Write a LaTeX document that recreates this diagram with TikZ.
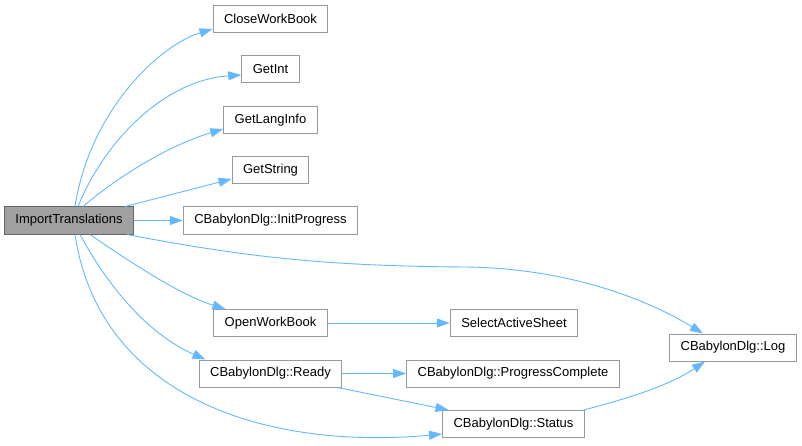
\documentclass[tikz,border=0pt]{standalone}
\usepackage{fontspec}
\setmainfont{Liberation Sans}
\usetikzlibrary{arrows.meta}
\definecolor{callblue}{HTML}{63B8FF}
\definecolor{boxgray}{HTML}{999999}
\definecolor{rootfill}{HTML}{A0A0A0}
\definecolor{rootline}{HTML}{666666}
\tikzset{
  fn/.style={draw=boxgray,fill=white,line width=1pt,minimum height=27pt,inner xsep=11pt,inner ysep=0pt,font=\fontsize{13}{15}\selectfont},
  root/.style={fn,draw=rootline,fill=rootfill},
  call/.style={draw=callblue,line width=0.9pt,-{Triangle[length=13pt,width=9pt]}}
}
\begin{document}
\begin{tikzpicture}[x=1pt,y=-1pt]
  \useasboundingbox (0,0) rectangle (802,446);
  \node[root] (imp) at (69,220.5) {ImportTranslations};
  \node[fn] (close) at (270.5,19) {CloseWorkBook};
  \node[fn] (getint) at (270.5,69.5) {GetInt};
  \node[fn] (langinfo) at (270.5,120) {GetLangInfo};
  \node[fn] (getstring) at (270.5,170) {GetString};
  \node[fn] (initprog) at (270.5,220.5) {CBabylonDlg::InitProgress};
  \node[fn] (openwb) at (270.5,323) {OpenWorkBook};
  \node[fn] (ready) at (270.5,373.5) {CBabylonDlg::Ready};
  \node[fn] (select) at (514,323) {SelectActiveSheet};
  \node[fn] (progress) at (513,373.5) {CBabylonDlg::ProgressComplete};
  \node[fn] (status) at (513.5,424) {CBabylonDlg::Status};
  \node[fn] (log) at (733,347.5) {CBabylonDlg::Log};

  \draw[call] ([xshift=6pt]imp.north) .. controls (90,110) and (160,45) .. ([yshift=-10pt]close.west);
  \draw[call] ([xshift=9pt]imp.north) .. controls (105,140) and (165,80) .. ([yshift=-5.5pt]getint.west);
  \draw[call] ([xshift=14pt]imp.north) .. controls (120,175) and (170,145) .. ([yshift=-9pt]langinfo.west);
  \draw[call] ([xshift=56pt]imp.north) -- ([yshift=-9pt]getstring.west);
  \draw[call] (imp) -- (initprog);
  \draw[call] ([xshift=58pt]imp.south) .. controls (250,258) and (330,266) .. (465,267)
    .. controls (560,268) and (640,295) .. ([xshift=-30pt]log.north);
  \draw[call] ([xshift=21pt]imp.south) .. controls (130,262) and (180,295) .. ([xshift=-45pt]openwb.north);
  \draw[call] ([xshift=11pt]imp.south) .. controls (110,290) and (150,335) .. ([xshift=-65pt]ready.north);
  \draw[call] ([xshift=6pt]imp.south) .. controls (100,400) and (270,450) .. ([yshift=-10pt]status.west);

  \draw[call] (openwb) -- (select);
  \draw[call] (ready) -- (progress);
  \draw[call] ([xshift=67pt]ready.south) -- ([xshift=-65pt]status.north);
  \draw[call] ([xshift=70pt]status.north) .. controls (630,398) and (670,385) .. ([xshift=-28pt]log.south);
\end{tikzpicture}
\end{document}
